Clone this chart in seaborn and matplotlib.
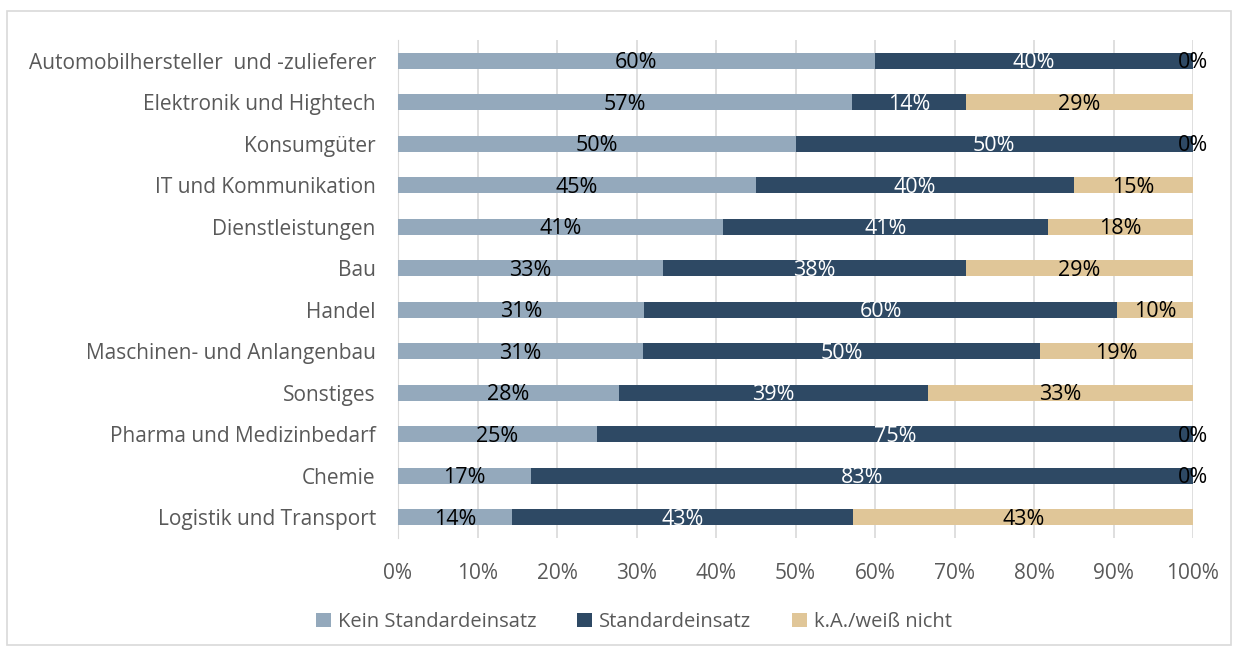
import pandas as pd
import matplotlib.pyplot as plt
import seaborn as sns
from matplotlib.patches import Rectangle, Patch

# --- data (percent) ---
categories = [
    "Automobilhersteller  und -zulieferer",
    "Elektronik und Hightech",
    "Konsumgüter",
    "IT und Kommunikation",
    "Dienstleistungen",
    "Bau",
    "Handel",
    "Maschinen- und Anlangenbau",
    "Sonstiges",
    "Pharma und Medizinbedarf",
    "Chemie",
    "Logistik und Transport",
]
kein_standard = [60.0, 57.1, 50.0, 45.0, 40.9, 33.3, 31.0, 30.8, 27.8, 25.0, 16.7, 14.3]
standard = [40.0, 14.3, 50.0, 40.0, 40.9, 38.1, 59.5, 50.0, 38.9, 75.0, 83.3, 42.9]
weiss_nicht = [0.0, 28.6, 0.0, 15.0, 18.2, 28.6, 9.5, 19.2, 33.3, 0.0, 0.0, 42.9]

series_names = ["Kein Standardeinsatz", "Standardeinsatz", "k.A./weiß nicht"]
colors = ["#94A9BC", "#2E4964", "#E0C698"]
label_colors = ["black", "white", "black"]

df = pd.DataFrame({"Kategorie": categories,
                   series_names[0]: kein_standard,
                   series_names[1]: standard,
                   series_names[2]: weiss_nicht})

# cumulative ends for stacking
df["end1"] = df[series_names[0]]
df["end2"] = df["end1"] + df[series_names[1]]
df["end3"] = df["end2"] + df[series_names[2]]

sns.set_style("white")
plt.rcParams["font.family"] = ["Open Sans", "DejaVu Sans"]

fig = plt.figure(figsize=(12.4, 6.53), dpi=100)
ax = fig.add_axes([398 / 1240, 1 - 538 / 653, (1193 - 398) / 1240, (538 - 40) / 653])

# draw longest first so shorter segments sit on top -> stacked look
for end_col, col in zip(["end3", "end2", "end1"], colors[::-1]):
    sns.barplot(data=df, y="Kategorie", x=end_col, orient="h", color=col,
                width=0.39, saturation=1, linewidth=0, ax=ax, zorder=3)

# data labels in the centre of each segment
starts = [0, "end1", "end2"]
for i, name in enumerate(series_names):
    for row, cat in enumerate(categories):
        left = 0 if i == 0 else df.loc[row, starts[i]]
        val = df.loc[row, name]
        ax.text(left + val / 2, row + 0.05, f"{val:.0f}%", ha="center", va="center",
                fontsize=15.5, color=label_colors[i], zorder=5)

ax.set_xlim(0, 100)
ax.set_ylim(11.5, -0.5)
ax.set_xticks(range(0, 101, 10))
ax.set_xticklabels([f"{t}%" for t in range(0, 101, 10)])
ax.set_xlabel("")
ax.set_ylabel("")
ax.grid(axis="x", color="#D9D9D9", linewidth=1.2, zorder=0)
for s in ["top", "right", "bottom"]:
    ax.spines[s].set_visible(False)
ax.spines["left"].set_color("#D9D9D9")
ax.tick_params(axis="both", length=0, labelsize=15, labelcolor="#595959")
ax.tick_params(axis="x", pad=18)
ax.tick_params(axis="y", pad=16)

handles = [Patch(facecolor=c, edgecolor="none") for c in colors]
fig.legend(handles, series_names, loc="center", bbox_to_anchor=(634 / 1240, 1 - 622 / 653),
           ncol=3, frameon=False, fontsize=14.5, handlelength=0.75, handleheight=0.75,
           columnspacing=2.0, handletextpad=0.35, labelcolor="#595959")

# thin outer frame like the source chart
fig.add_artist(Rectangle((7 / 1240, 1 - 645 / 653), (1231 - 7) / 1240, (645 - 11) / 653,
                         transform=fig.transFigure, fill=False, edgecolor="#D9D9D9", lw=1.2))

fig.savefig("out.png", dpi=100)
